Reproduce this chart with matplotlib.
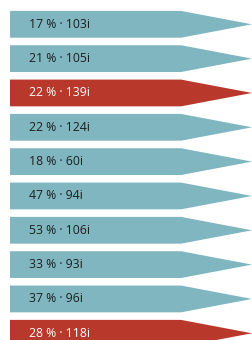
import matplotlib.pyplot as plt
from matplotlib.patches import Polygon

pct = [17, 21, 22, 22, 18, 47, 53, 33, 37, 28]
count = [103, 105, 139, 124, 60, 94, 106, 93, 96, 118]
highlight = [False, False, True, False, False, False, False, False, False, True]

teal = '#7fb6bf'
red = '#b8382c'

fig = plt.figure(figsize=(2.52, 3.40), dpi=100)
ax = fig.add_axes([0, 0, 1, 1])
ax.set_xlim(0, 252)
ax.set_ylim(9.196, -0.708)
ax.axis('off')

half = 0.39
for i, (p, c, h) in enumerate(zip(pct, count, highlight)):
    col = red if h else teal
    pts = [(10, i - half), (181, i - half), (252, i), (181, i + half), (10, i + half)]
    ax.add_patch(Polygon(pts, closed=True, facecolor=col, edgecolor='none'))
    ax.text(29, i, f'{p} % · {c}i', va='center', ha='left', fontsize=8.8,
            family='Open Sans', color='white' if h else '#1f1f1f')

fig.savefig('out.png', dpi=100)
